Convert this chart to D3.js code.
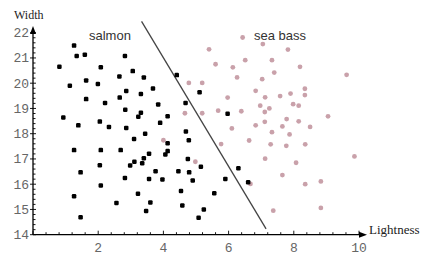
<!DOCTYPE html>
<html>
<head>
<meta charset="utf-8">
<script src="https://cdn.jsdelivr.net/npm/d3@7"></script>
<style>
  body { margin: 0; background: #fff; }
  svg { display: block; }
</style>
</head>
<body>
<svg id="chart"></svg>
<script>
// salmon (black) points: [lightness, width]
var salmon = [
  [1.26,21.49],[1.34,21.08],[1.59,21.13],[0.81,20.65],[2.08,20.63],[2.82,21.08],
  [3.06,20.48],[3.40,20.23],[2.65,20.27],[1.13,19.90],[1.63,20.11],[1.99,19.97],
  [3.68,19.79],[4.41,20.32],[2.86,19.69],[3.31,19.57],[1.63,19.37],[2.21,19.22],
  [2.66,19.43],[2.83,18.95],[3.84,19.16],[4.68,19.22],[5.11,19.64],[0.93,18.64],
  [1.39,18.33],[2.05,18.48],[2.33,18.27],[2.86,18.23],[3.23,18.67],[3.31,18.83],
  [4.13,18.69],[3.90,18.43],[5.97,18.79],[1.26,17.35],[2.08,17.35],[2.69,17.35],
  [1.46,16.47],[2.05,16.75],[2.08,15.95],[1.26,15.52],[1.46,14.69],[2.56,15.26],
  [2.82,16.25],[2.98,16.74],[3.11,16.89],[3.10,17.79],[3.44,18.00],[3.35,16.83],
  [3.40,17.03],[3.56,17.21],[3.56,16.21],[3.76,16.51],[3.22,15.62],[3.60,15.28],
  [3.47,14.94],[3.97,16.19],[4.06,17.18],[4.13,17.62],[4.13,17.31],[4.46,16.51],
  [4.54,15.73],[4.58,15.16],[4.69,18.09],[4.78,17.74],[4.75,17.00],[4.79,16.47],
  [4.90,16.15],[5.15,16.69],[5.24,15.00],[5.08,14.67],[5.56,15.64],[5.90,16.21],
  [6.30,16.63],[6.60,16.08]
];

// sea bass (pink) points: [lightness, width]
var seaBass = [
  [6.43,21.81],[7.05,21.55],[7.82,21.33],[5.40,21.34],[5.60,20.75],[6.13,20.63],
  [6.51,20.91],[7.33,20.91],[8.19,20.65],[6.26,20.23],[7.03,20.16],[7.40,20.42],
  [9.62,20.33],[4.78,20.01],[5.19,20.01],[6.83,19.70],[7.12,19.44],[5.97,19.43],
  [7.58,19.49],[7.90,19.59],[8.34,19.78],[8.34,19.53],[6.97,19.11],[7.25,19.00],
  [7.11,18.86],[7.98,19.17],[8.15,19.11],[5.68,18.91],[6.39,18.89],[4.66,18.81],
  [5.19,18.81],[7.78,18.58],[8.15,18.49],[9.05,18.69],[7.11,18.47],[6.83,18.33],
  [7.65,18.29],[8.50,18.27],[6.10,18.21],[7.33,18.06],[7.87,17.97],[4.00,17.74],
  [5.77,17.59],[6.63,17.73],[7.29,17.58],[7.77,17.52],[8.35,17.58],[7.12,17.01],
  [8.07,16.85],[9.86,17.10],[4.98,16.89],[7.65,16.36],[6.67,16.01],[8.35,16.00],
  [8.83,16.11],[7.37,14.95],[8.83,15.06]
];

// decision boundary end points
var boundary = [[3.33,22.45],[7.15,14.23]];

var xTicks = [2, 4, 6, 8, 10];
var yTicks = [14, 15, 16, 17, 18, 19, 20, 21, 22];

var width = 422, height = 256;

var svg = d3.select('#chart')
    .attr('width', width)
    .attr('height', height);

var x = d3.scaleLinear().domain([0, 10]).range([33, 359]);
var y = d3.scaleLinear().domain([14, 22]).range([234.7, 32.7]);

// minor ticks
var xMinor = d3.range(0, 10.01, 0.4);
var yMinor = d3.range(14, 22.01, 0.2);

var axes = svg.append('g').attr('stroke', '#000');

// x axis line with arrow
axes.append('line')
  .attr('x1', x(0)).attr('x2', 362)
  .attr('y1', y(14)).attr('y2', y(14))
  .attr('stroke-width', 1.3);
svg.append('path')
  .attr('d', 'M367,' + y(14) + 'L359,' + (y(14) - 3) + 'L359,' + (y(14) + 3) + 'Z')
  .attr('fill', '#000');

// y axis line with arrow
axes.append('line')
  .attr('x1', x(0)).attr('x2', x(0))
  .attr('y1', y(14)).attr('y2', 32)
  .attr('stroke-width', 1.3);
svg.append('path')
  .attr('d', 'M' + x(0) + ',26L' + (x(0) - 3) + ',34L' + (x(0) + 3) + ',34Z')
  .attr('fill', '#000');

axes.selectAll('.xminor')
  .data(xMinor)
  .enter()
  .append('line')
  .attr('x1', function(d) { return x(d); })
  .attr('x2', function(d) { return x(d); })
  .attr('y1', y(14))
  .attr('y2', function(d) { return y(14) - (Math.abs(d / 2 - Math.round(d / 2)) < 0.01 ? 4 : 2.5); })
  .attr('stroke-width', 0.9);

axes.selectAll('.yminor')
  .data(yMinor)
  .enter()
  .append('line')
  .attr('y1', function(d) { return y(d); })
  .attr('y2', function(d) { return y(d); })
  .attr('x1', function(d) { return x(0) - (Math.abs(d - Math.round(d)) < 0.01 ? 3 : 0); })
  .attr('x2', function(d) { return x(0) + (Math.abs(d - Math.round(d)) < 0.01 ? 3 : 2.5); })
  .attr('stroke-width', 0.9);

// tick labels
svg.selectAll('.xlab')
  .data(xTicks)
  .enter()
  .append('text')
  .attr('x', function(d) { return x(d); })
  .attr('y', 252)
  .attr('text-anchor', 'middle')
  .attr('font-family', 'Liberation Mono, DejaVu Sans Mono, monospace')
  .attr('font-size', 13)
  .attr('fill', '#666')
  .text(function(d) { return d; });

svg.selectAll('.ylab')
  .data(yTicks)
  .enter()
  .append('text')
  .attr('x', 29)
  .attr('y', function(d) { return y(d) + 4.5; })
  .attr('text-anchor', 'end')
  .attr('font-family', 'Liberation Mono, DejaVu Sans Mono, monospace')
  .attr('font-size', 13)
  .attr('fill', '#666')
  .text(function(d) { return d; });

// axis titles
svg.append('text')
  .attr('x', 14).attr('y', 19)
  .attr('font-family', 'Liberation Serif, Times New Roman, serif')
  .attr('font-size', 12)
  .attr('fill', '#222')
  .text('Width');

svg.append('text')
  .attr('x', 369).attr('y', 234)
  .attr('font-family', 'Liberation Serif, Times New Roman, serif')
  .attr('font-size', 13)
  .attr('fill', '#222')
  .text('Lightness');

// boundary
svg.append('line')
  .attr('x1', x(boundary[0][0])).attr('y1', y(boundary[0][1]))
  .attr('x2', x(boundary[1][0])).attr('y2', y(boundary[1][1]))
  .attr('stroke', '#444')
  .attr('stroke-width', 1.3);

// sea bass dots
svg.selectAll('.bass')
  .data(seaBass)
  .enter()
  .append('circle')
  .attr('cx', function(d) { return x(d[0]); })
  .attr('cy', function(d) { return y(d[1]); })
  .attr('r', 2.4)
  .attr('fill', '#c9a1aa');

// salmon dots
svg.selectAll('.salmon')
  .data(salmon)
  .enter()
  .append('rect')
  .attr('x', function(d) { return x(d[0]) - 2.25; })
  .attr('y', function(d) { return y(d[1]) - 2.25; })
  .attr('width', 4.5)
  .attr('height', 4.5)
  .attr('rx', 1.2)
  .attr('fill', '#000');

// class labels
svg.append('text')
  .attr('x', 89).attr('y', 40)
  .attr('font-family', 'Liberation Sans, Arial, sans-serif')
  .attr('font-size', 13)
  .attr('fill', '#333')
  .text('salmon');

svg.append('text')
  .attr('x', 254).attr('y', 40)
  .attr('font-family', 'Liberation Sans, Arial, sans-serif')
  .attr('font-size', 13)
  .attr('fill', '#333')
  .text('sea bass');
</script>
</body>
</html>
